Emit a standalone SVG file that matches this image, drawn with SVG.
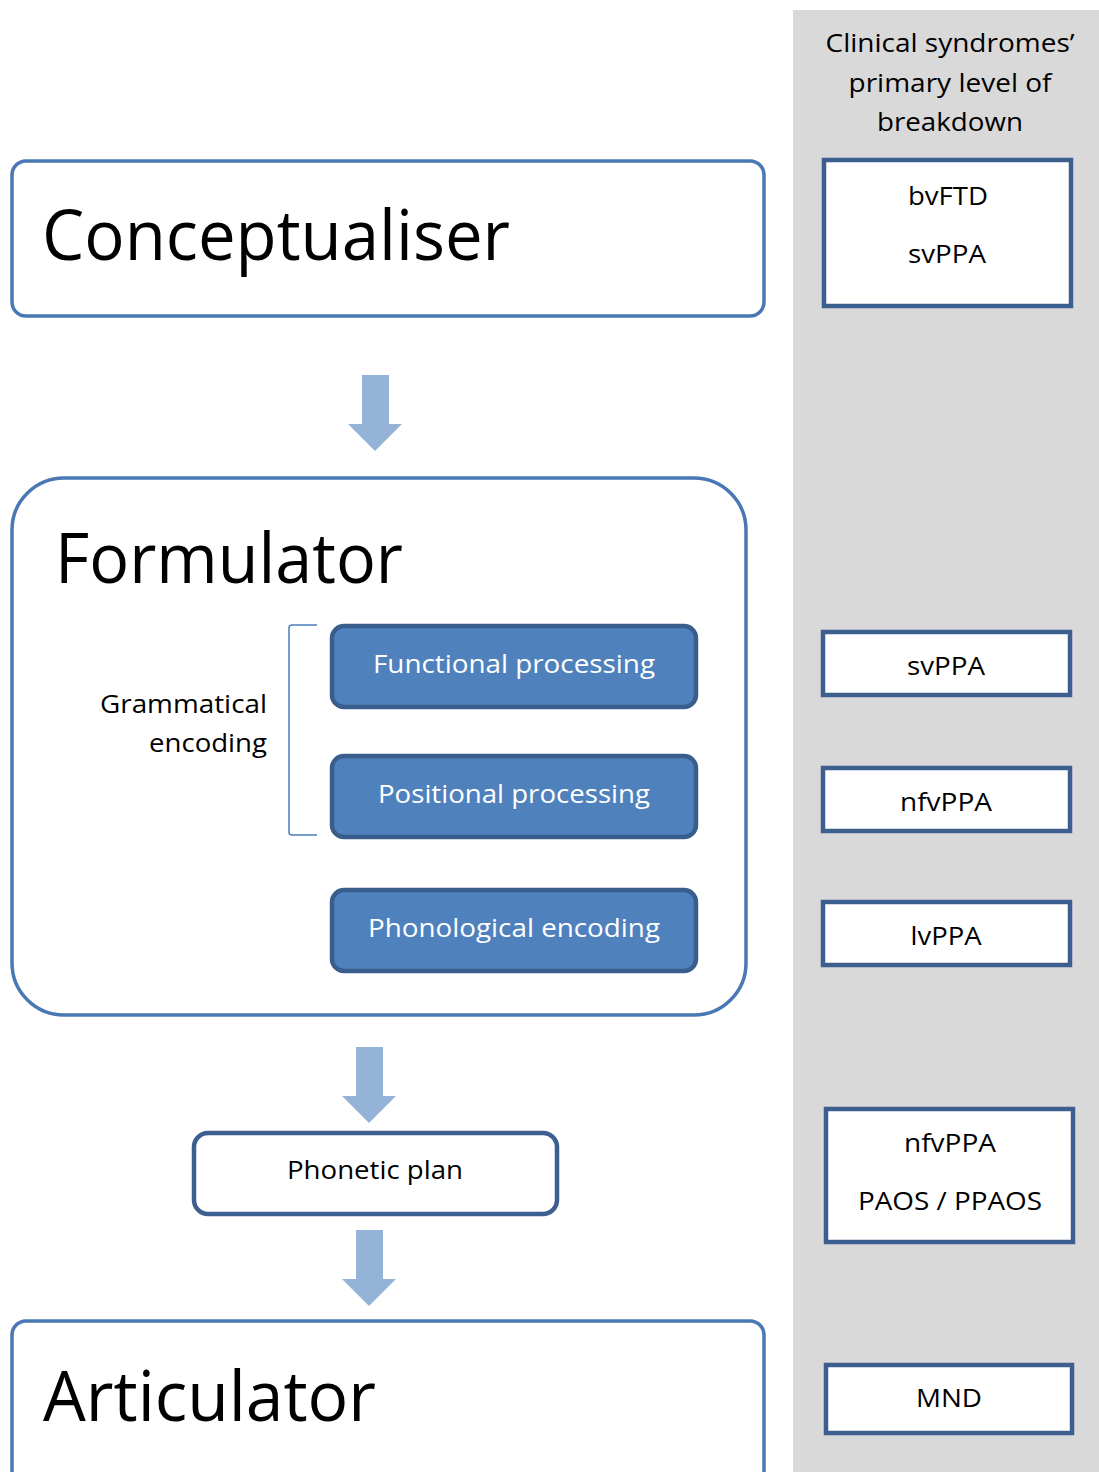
<svg xmlns="http://www.w3.org/2000/svg" width="1099" height="1472" viewBox="0 0 1099 1472">
<style>
text{font-family:"Open Sans","Liberation Sans",sans-serif;fill:#000}
.big{font-size:70px}
.mid{font-size:26px}
.c{text-anchor:middle}
.r{text-anchor:end}
.w{fill:#fff}
.main{fill:#fff;stroke:#4a78b4;stroke-width:3.5}
.side{fill:#fff;stroke:#3d5f8f;stroke-width:4.5}
.proc{fill:#4f81bd;stroke:#3a5e8c;stroke-width:4.5}
.arrow{fill:#95b3d7}
</style>
<rect x="793" y="10" width="306" height="1462" fill="#d9d9d9"/>
<g id="header">
<text class="mid c" x="950" y="52" textLength="249" lengthAdjust="spacingAndGlyphs">Clinical syndromes’</text>
<text class="mid c" x="950" y="92" textLength="203" lengthAdjust="spacingAndGlyphs">primary level of</text>
<text class="mid c" x="950" y="131" textLength="146" lengthAdjust="spacingAndGlyphs">breakdown</text>
</g>
<g id="conceptualiser">
<rect class="main" x="12" y="161" width="752" height="155" rx="14"/>
<text class="big" x="42" y="260" textLength="468" lengthAdjust="spacingAndGlyphs">Conceptualiser</text>
</g>
<g id="formulator">
<rect class="main" x="12" y="478" width="734" height="537" rx="52"/>
<text class="big" x="55" y="583" textLength="348" lengthAdjust="spacingAndGlyphs">Formulator</text>
</g>
<g id="grammatical-encoding">
<path d="M317,625 L292,625 Q289,625 289,628 L289,832 Q289,835 292,835 L317,835" fill="none" stroke="#4a7ebb" stroke-width="1.5"/>
<text class="mid r" x="267" y="713" textLength="167" lengthAdjust="spacingAndGlyphs">Grammatical</text>
<text class="mid r" x="267" y="752" textLength="118" lengthAdjust="spacingAndGlyphs">encoding</text>
</g>
<g id="functional-processing">
<rect class="proc" x="332" y="626" width="364" height="81" rx="12"/>
<text class="mid c w" x="514" y="673" textLength="282" lengthAdjust="spacingAndGlyphs">Functional processing</text>
</g>
<g id="positional-processing">
<rect class="proc" x="332" y="756" width="364" height="81" rx="12"/>
<text class="mid c w" x="514" y="803" textLength="272" lengthAdjust="spacingAndGlyphs">Positional processing</text>
</g>
<g id="phonological-encoding">
<rect class="proc" x="332" y="890" width="364" height="81" rx="12"/>
<text class="mid c w" x="514" y="937" textLength="292" lengthAdjust="spacingAndGlyphs">Phonological encoding</text>
</g>
<g id="phonetic-plan">
<rect class="side" x="194" y="1133" width="363" height="81" rx="14"/>
<text class="mid c" x="375" y="1179" textLength="176" lengthAdjust="spacingAndGlyphs">Phonetic plan</text>
</g>
<g id="articulator">
<rect class="main" x="12" y="1321" width="752" height="170" rx="14"/>
<text class="big" x="43" y="1421" textLength="333" lengthAdjust="spacingAndGlyphs">Articulator</text>
</g>
<g id="connectors">
<polygon class="arrow" points="362,375 389,375 389,424 402,424 375,451 348,424 362,424"/>
<polygon class="arrow" points="356,1047 383,1047 383,1096 396,1096 369,1123 342,1096 356,1096"/>
<polygon class="arrow" points="356,1230 383,1230 383,1279 396,1279 369,1306 342,1279 356,1279"/>
</g>
<g id="box-bvftd-svppa">
<rect class="side" x="824" y="160" width="247" height="146"/>
<text class="mid c" x="948" y="205" textLength="80" lengthAdjust="spacingAndGlyphs">bvFTD</text>
<text class="mid c" x="947" y="263" textLength="78" lengthAdjust="spacingAndGlyphs">svPPA</text>
</g>
<g id="box-svppa">
<rect class="side" x="823" y="632" width="247" height="63"/>
<text class="mid c" x="946" y="675" textLength="78" lengthAdjust="spacingAndGlyphs">svPPA</text>
</g>
<g id="box-nfvppa">
<rect class="side" x="823" y="768" width="247" height="63"/>
<text class="mid c" x="946" y="811" textLength="92" lengthAdjust="spacingAndGlyphs">nfvPPA</text>
</g>
<g id="box-lvppa">
<rect class="side" x="823" y="902" width="247" height="63"/>
<text class="mid c" x="946" y="945" textLength="71" lengthAdjust="spacingAndGlyphs">lvPPA</text>
</g>
<g id="box-nfvppa-paos">
<rect class="side" x="826" y="1109" width="247" height="133"/>
<text class="mid c" x="950" y="1152" textLength="92" lengthAdjust="spacingAndGlyphs">nfvPPA</text>
<text class="mid c" x="950" y="1210" textLength="184" lengthAdjust="spacingAndGlyphs">PAOS / PPAOS</text>
</g>
<g id="box-mnd">
<rect class="side" x="826" y="1365" width="246" height="68"/>
<text class="mid c" x="949" y="1407" textLength="66" lengthAdjust="spacingAndGlyphs">MND</text>
</g>
</svg>
